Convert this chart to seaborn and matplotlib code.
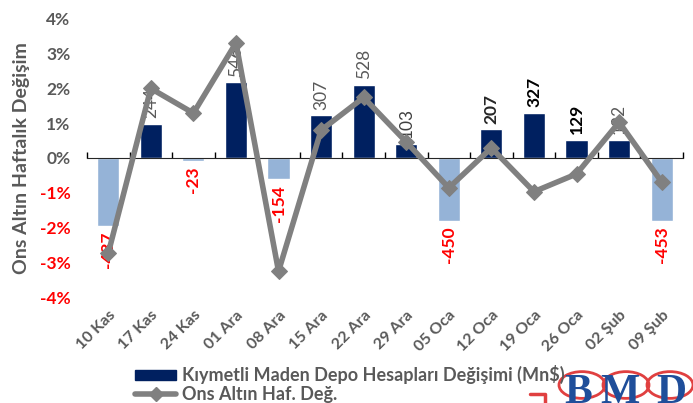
import numpy as np
import pandas as pd
import seaborn as sns
import matplotlib.pyplot as plt
from matplotlib.lines import Line2D
from matplotlib.patches import Patch, Circle

weeks = ["10 Kas", "17 Kas", "24 Kas", "01 Ara", "08 Ara", "15 Ara", "22 Ara",
         "29 Ara", "05 Oca", "12 Oca", "19 Oca", "26 Oca", "02 Şub", "09 Şub"]
deposit_change = [-487, 244, -23, 546, -154, 307, 528, 103, -450, 207, 327, 129, 132, -453]
gold_weekly = [-2.74, 2.0, 1.29, 3.31, -3.26, 0.8, 1.74, 0.46, -0.86, 0.29, -0.97, -0.46, 1.03, -0.69]
label_colors = ["#ff0000", "#595959", "#ff0000", "#595959", "#ff0000", "#595959", "#595959",
                "#404040", "#ff0000", "#262626", "#000000", "#000000", "#595959", "#ff0000"]

navy = "#002060"
light = "#95b3d7"
gray = "#808080"
txt = "#595959"

sns.set_style("white")
plt.rcParams["font.family"] = ["Lato", "DejaVu Sans"]
plt.rcParams["font.weight"] = "bold"

df = pd.DataFrame({"week": weeks, "dep": deposit_change, "gold": gold_weekly})
df["x"] = np.arange(len(df))
bar_cols = [navy if v > 0 else light for v in deposit_change]

fig = plt.figure(figsize=(6.93, 4.03), dpi=100)
ax = fig.add_axes([0.1255, 0.263, 0.86, 0.69])
axb = ax.twinx()

# bars on a hidden secondary scale (Mn$)
sns.barplot(data=df, x="week", y="dep", hue="week", palette=bar_cols, legend=False,
            width=0.52, ax=axb, saturation=1)
axb.set_ylim(-1000, 1000)
axb.set_yticks([])
axb.set_ylabel("")
axb.set_xlabel("")
for c in axb.containers:
    axb.bar_label(c, rotation=90, padding=4, fontsize=12.5)
for t, col in zip(axb.texts, label_colors):
    t.set_color(col)
    if col in ("#595959", "#404040"):
        t.set_fontweight("normal")
axb.tick_params(axis="x", bottom=False, labelbottom=False, top=False, labeltop=False)

# gold weekly change line
sns.lineplot(data=df, x="x", y="gold", ax=ax, color=gray, lw=4, marker="D",
             markersize=8, markeredgecolor=gray)
ax.set_zorder(axb.get_zorder() + 1)
ax.patch.set_visible(False)
ax.set_ylim(-4, 4)
ax.set_xlim(-0.5, len(weeks) - 0.5)
ax.set_yticks(np.arange(-4, 5))
ax.set_yticklabels([f"{v}%" for v in range(-4, 5)], fontsize=12.5, fontweight="bold")
for t, v in zip(ax.get_yticklabels(), range(-4, 5)):
    t.set_color("#ff0000" if v < 0 else txt)
ax.set_xticks(df["x"])
ax.set_xticklabels(weeks, rotation=45, ha="right", rotation_mode="anchor",
                   fontsize=11.5, color=txt, fontweight="bold")
ax.tick_params(axis="y", length=0, pad=12)
ax.tick_params(axis="x", length=0, pad=8)
ax.set_xlabel("")
ax.set_ylabel("Ons Altın Haftalık Değişim", fontsize=14, fontweight="bold", color=txt, labelpad=7)
for a in (ax, axb):
    for s in a.spines.values():
        s.set_visible(False)

zero = ax.secondary_xaxis(0.5)
zero.set_xticks(np.arange(-0.5, len(weeks), 1.0))
zero.set_xticklabels([])
zero.tick_params(direction="out", length=4, color="black", width=1)
zero.spines["bottom"].set_color("black")
zero.spines["bottom"].set_linewidth(1)

handles = [Patch(facecolor=navy, edgecolor=navy),
           Line2D([0], [0], color=gray, lw=4, marker="D", markersize=7)]
fig.legend(handles, ["Kıymetli Maden Depo Hesapları Değişimi (Mn$)", "Ons Altın Haf. Değ."],
           loc="lower left", bbox_to_anchor=(133 / 693, -0.005), frameon=False,
           prop={"size": 13, "weight": "bold"}, labelcolor=txt,
           handlelength=2.3, handleheight=0.5, handletextpad=0.3, labelspacing=0.1,
           borderpad=0.1, borderaxespad=0)

# logo (partly cropped, as in the source)
for cx in (582, 626, 670):
    fig.add_artist(Circle((cx / 693, (403 - 385) / 403), 23 / 693, transform=fig.transFigure,
                          fill=False, edgecolor="#e04040", lw=2, zorder=1))
for cx, ch in zip((578, 620, 671), "BMD"):
    fig.text(cx / 693, (403 - 412) / 403, ch, ha="center", va="bottom", fontsize=30,
             color="#1f4e9a", family="Liberation Serif", fontweight="bold")
fig.add_artist(Line2D([530 / 693, 545 / 693, 545 / 693], [9 / 403, 9 / 403, 0],
                      transform=fig.transFigure, color="#e04040", lw=2.5))

fig.savefig("out.png", dpi=100)
